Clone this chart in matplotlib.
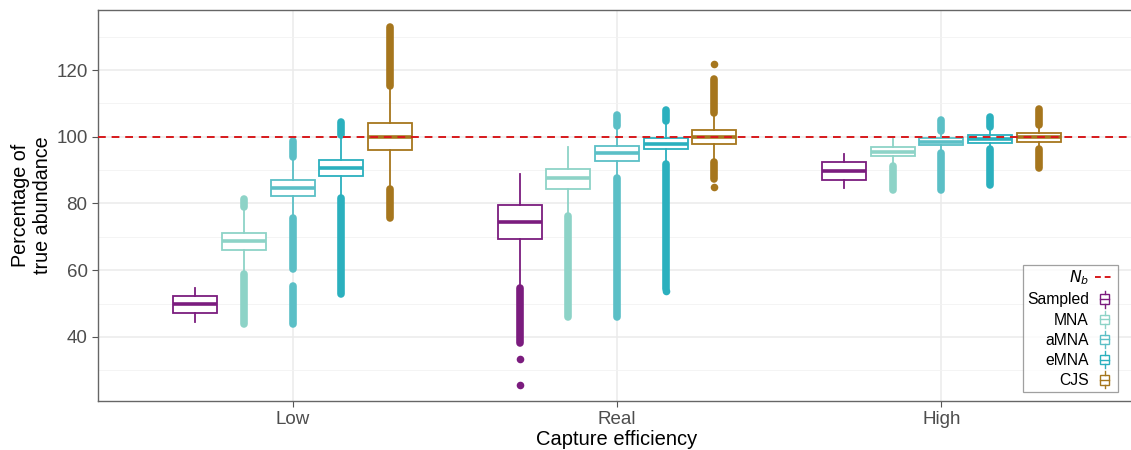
import matplotlib
matplotlib.use("Agg")
import matplotlib.pyplot as plt
from matplotlib.legend_handler import HandlerBase
from matplotlib.patches import Rectangle
from matplotlib.lines import Line2D

plt.rcParams["font.family"] = ["Liberation Sans", "DejaVu Sans"]

groups = ["Low", "Real", "High"]
methods = ["Sampled", "MNA", "aMNA", "eMNA", "CJS"]
colors = ["#7b1c7e", "#8dd3c7", "#5bbfc6", "#2bb0be", "#a6761d"]

# box stats per group, per method: (whislo, q1, med, q3, whishi)
stats_low = [(44.6, 47.3, 50.0, 52.4, 54.8),
             (59.0, 66.2, 68.9, 71.3, 78.4),
             (75.7, 82.3, 84.7, 87.1, 93.7),
             (81.7, 88.3, 90.7, 93.1, 100.3),
             (84.4, 96.1, 100.0, 104.2, 115.3)]
stats_real = [(54.8, 69.5, 74.6, 79.6, 88.9),
              (76.3, 84.4, 87.7, 90.4, 97.0),
              (87.7, 92.8, 95.2, 97.3, 102.7),
              (91.9, 96.4, 97.9, 99.7, 104.2),
              (92.5, 97.9, 100.0, 102.1, 106.9)]
stats_high = [(84.7, 87.1, 89.8, 92.5, 94.9),
              (91.3, 94.3, 95.5, 97.0, 99.4),
              (95.2, 97.6, 98.5, 99.7, 101.2),
              (96.4, 98.2, 99.4, 100.6, 102.4),
              (96.4, 98.5, 100.0, 101.2, 103.3)]
all_stats = [stats_low, stats_real, stats_high]

# dense outlier columns: (lo, hi) extents per group, per method
runs_low = [[],
            [(44.0, 59.0), (78.9, 81.4)],
            [(44.0, 55.4), (60.5, 75.7), (93.9, 98.8)],
            [(53.0, 81.7), (100.5, 104.5)],
            [(75.7, 84.4), (115.3, 132.9)]]
runs_real = [[(38.3, 54.8)],
             [(46.1, 76.3)],
             [(46.1, 87.7), (103.2, 106.6)],
             [(54.5, 91.9), (104.8, 108.0)],
             [(87.4, 92.5), (107.0, 117.4)]]
runs_high = [[],
             [(84.1, 91.3)],
             [(84.1, 95.2), (101.6, 105.1)],
             [(85.6, 96.4), (103.0, 106.0)],
             [(90.7, 96.4), (103.6, 108.4)]]
all_runs = [runs_low, runs_real, runs_high]

# isolated outliers per group, per method
single_low = [[], [], [], [], []]
single_real = [[33.5, 25.7], [], [], [53.8], [121.9, 85.0]]
single_high = [[], [], [], [], []]
all_single = [single_low, single_real, single_high]

nb = 100

offsets = [-0.30, -0.15, 0.0, 0.15, 0.30]
box_w = 0.135

fig = plt.figure(figsize=(11.31, 4.5), dpi=100)
ax = fig.add_axes([98 / 1131, 1 - 401 / 450, 1038 / 1131, 391 / 450])

for gi in range(len(groups)):
    for mi in range(len(methods)):
        pos = gi + 1 + offsets[mi]
        c = colors[mi]
        for lo, hi in all_runs[gi][mi]:
            ax.plot([pos, pos], [lo, hi], color=c, lw=5.5,
                    solid_capstyle="round", zorder=2)
        if all_single[gi][mi]:
            ax.scatter([pos] * len(all_single[gi][mi]), all_single[gi][mi],
                       s=30, color=c, zorder=2, linewidths=0)
        wl, q1, med, q3, wh = all_stats[gi][mi]
        st = dict(whislo=wl, q1=q1, med=med, q3=q3, whishi=wh, fliers=[])
        ax.bxp([st], positions=[pos], widths=box_w, showcaps=False,
               patch_artist=True, manage_ticks=False,
               boxprops=dict(facecolor="white", edgecolor=c, lw=1.3),
               whiskerprops=dict(color=c, lw=1.3),
               medianprops=dict(color=c, lw=2.6, solid_capstyle="butt"),
               zorder=3)

ax.axhline(nb, color="#d7191c", ls=(0, (4, 3)), lw=1.4, zorder=4)

ax.set_xlim(0.4, 3.6)
ax.set_ylim(20.8, 138)
ax.set_xticks([1, 2, 3])
ax.set_xticklabels(groups)
ax.set_yticks([40, 60, 80, 100, 120])
ax.set_yticks([30, 50, 70, 90, 110, 130], minor=True)
ax.grid(True, which="major", color="#ebebeb", lw=1.1)
ax.grid(True, which="minor", axis="y", color="#f2f2f2", lw=0.6)
ax.set_axisbelow(True)
ax.tick_params(axis="both", which="major", labelsize=13.5,
               labelcolor="#4d4d4d", color="#555555", length=4)
ax.tick_params(axis="both", which="minor", length=0)
for s in ax.spines.values():
    s.set_color("#666666")
    s.set_linewidth(1.0)
ax.set_xlabel("Capture efficiency", fontsize=14.5, labelpad=1)
ax.set_ylabel("Percentage of\ntrue abundance", fontsize=14.2, labelpad=3)


class BoxHandler(HandlerBase):
    def __init__(self, color):
        super().__init__()
        self.color = color

    def create_artists(self, legend, orig_handle, xd, yd, w, h, fontsize, trans):
        cx = xd + w / 2
        bw = w * 0.45
        rect = Rectangle((cx - bw / 2, yd + h * 0.05), bw, h * 0.85,
                         facecolor="white", edgecolor=self.color, lw=1.0,
                         transform=trans)
        med = Line2D([cx - bw / 2, cx + bw / 2], [yd + h * 0.475] * 2,
                     color=self.color, lw=1.0, transform=trans)
        w1 = Line2D([cx, cx], [yd - h * 0.3, yd + h * 0.05],
                    color=self.color, lw=1.0, transform=trans)
        w2 = Line2D([cx, cx], [yd + h * 0.9, yd + h * 1.25],
                    color=self.color, lw=1.0, transform=trans)
        return [rect, med, w1, w2]


nb_handle = Line2D([], [], color="#d7191c", ls=(0, (3, 2)), lw=1.4)
box_handles = [Rectangle((0, 0), 1, 1) for _ in methods]
handler_map = {h: BoxHandler(c) for h, c in zip(box_handles, colors)}
leg = ax.legend([nb_handle] + box_handles, [r"$N_b$"] + methods,
                handler_map=handler_map, loc="lower right",
                markerfirst=False, fontsize=11.3, frameon=True, fancybox=False,
                handlelength=1.2, handletextpad=0.4, labelspacing=0.33,
                borderpad=0.25, borderaxespad=0, edgecolor="#888888")
leg.set_bbox_to_anchor((1118 / 1131, 1 - 392 / 450), transform=fig.transFigure)
leg.get_frame().set_linewidth(0.9)
for t in leg.get_texts():
    t.set_ha("right")

fig.savefig("out.png", dpi=100)
